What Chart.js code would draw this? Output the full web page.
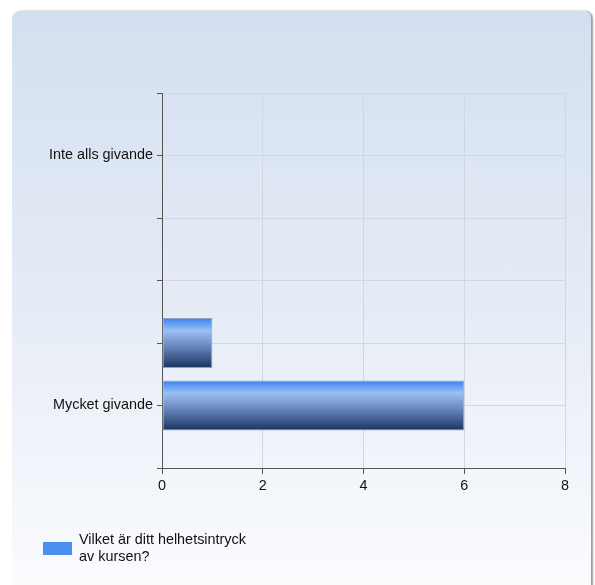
<!DOCTYPE html>
<html lang="sv">
<head>
  <meta charset="UTF-8">
  <title>Helhetsintryck av kursen</title>
  <script src="https://cdn.jsdelivr.net/npm/chart.js"></script>
  <style>
    body {
      margin: 0;
      background: #ffffff;
      font-family: Arial, "Liberation Sans", sans-serif;
    }
    #kort {
      position: absolute;
      left: 12px;
      top: 11px;
      width: 579px;
      height: 620px;
      border-radius: 8px;
      background: linear-gradient(to bottom, #d3dff0 0px, #e6ecf6 300px, #fbfcfe 585px);
      box-shadow: 2px 0 2px #9a9a9a;
    }
    #wrap {
      position: absolute;
      left: 0;
      top: 0;
      width: 595px;
      height: 585px;
    }
  </style>
</head>
<body>
  <div id="kort"></div>
  <div id="wrap"><canvas id="grafik" width="595" height="585"></canvas></div>

  <script>
    // svarsalternativ (skala 1-5, bara ändpunkterna har text)
    const kategorier = ['Inte alls givande', '', '', '', 'Mycket givande'];
    const antal = [0, 0, 0, 1, 6];
    const xTicks = [0, 2, 4, 6, 8];
    const serieText = ['Vilket är ditt helhetsintryck', 'av kursen?'];

    const punkter = antal.map((v, i) => ({ x: v, y: i + 1 }));
    const typsnitt = 'Arial, "Liberation Sans", sans-serif';

    function stapelFarg(ctx) {
      const chart = ctx.chart;
      if (!chart.chartArea || !ctx.parsed) return '#4a8ef0';
      const mitt = chart.scales.y.getPixelForValue(ctx.parsed.y);
      const g = chart.ctx.createLinearGradient(0, mitt - 25, 0, mitt + 25);
      g.addColorStop(0, '#3a80f0');
      g.addColorStop(0.25, '#9ac0f4');
      g.addColorStop(0.55, '#6a8bc0');
      g.addColorStop(1, '#1a3360');
      return g;
    }

    // egen legend nere till vänster
    const legendPlugin = {
      id: 'egenLegend',
      afterDraw(chart) {
        const c = chart.ctx;
        c.save();
        c.fillStyle = '#4a90f0';
        c.fillRect(43, 542, 29, 13);
        c.fillStyle = '#111111';
        c.font = '14.4px ' + typsnitt;
        c.textBaseline = 'middle';
        c.textAlign = 'left';
        serieText.forEach((rad, i) => c.fillText(rad, 79, 540 + i * 17));
        c.restore();
      }
    };

    new Chart(document.getElementById('grafik'), {
      type: 'bar',
      data: {
        datasets: [{
          label: serieText.join(' '),
          data: punkter,
          backgroundColor: stapelFarg,
          borderColor: '#8ea3c2',
          borderWidth: ctx => (ctx.parsed && ctx.parsed.x ? 1 : 0),
          borderSkipped: false,
          barPercentage: 1,
          categoryPercentage: 0.8
        }]
      },
      options: {
        indexAxis: 'y',
        responsive: false,
        animation: false,
        layout: { padding: { top: 93, right: 30, left: 0, bottom: 0 } },
        plugins: {
          legend: { display: false },
          tooltip: { enabled: false }
        },
        scales: {
          x: {
            type: 'linear',
            min: 0,
            max: 8,
            afterBuildTicks: s => { s.ticks = xTicks.map(v => ({ value: v })); },
            afterFit: s => { s.height = 117; },
            grid: { color: '#d2d7df', tickColor: '#555555', tickLength: 6 },
            border: { color: '#555555' },
            ticks: {
              color: '#111111',
              padding: 3,
              font: { family: typsnitt, size: 14.4 }
            }
          },
          y: {
            type: 'linear',
            reverse: true,
            offset: false,
            min: 0,
            max: kategorier.length + 1,
            afterFit: s => { s.width = 162; },
            grid: { offset: false, color: '#d2d7df', tickColor: '#555555', tickLength: 5 },
            border: { color: '#555555' },
            ticks: {
              stepSize: 1,
              autoSkip: false,
              color: '#111111',
              padding: 4,
              font: { family: typsnitt, size: 14.4 },
              callback: v => kategorier[v - 1] || ''
            }
          }
        }
      },
      plugins: [legendPlugin]
    });
  </script>
</body>
</html>
